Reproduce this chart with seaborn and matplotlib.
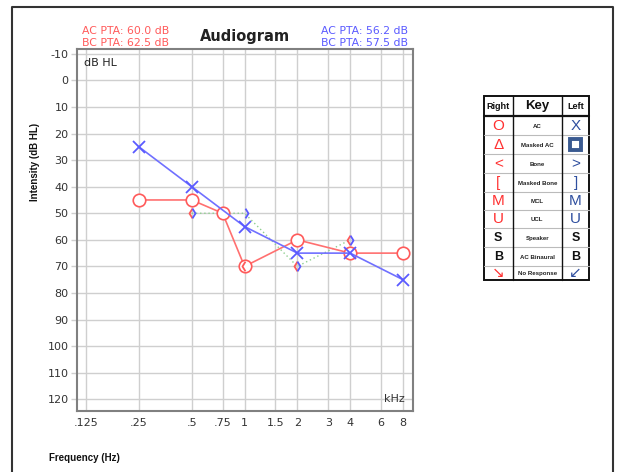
import numpy as np
import pandas as pd
import matplotlib
matplotlib.use("Agg")
import matplotlib.pyplot as plt
from matplotlib.path import Path
from matplotlib.patches import Rectangle
import seaborn as sns

# ---------------- data ----------------
freq_ticks = [0.125, 0.25, 0.5, 0.75, 1, 1.5, 2, 3, 4, 6, 8]
freq_labels = [".125", ".25", ".5", ".75", "1", "1.5", "2", "3", "4", "6", "8"]
db_ticks = list(range(-10, 121, 10))

right_ac_freq = [0.25, 0.5, 0.75, 1, 2, 4, 8]
right_ac_db = [45, 45, 50, 70, 60, 65, 65]

left_ac_freq = [0.25, 0.5, 1, 2, 4, 8]
left_ac_db = [25, 40, 55, 65, 65, 75]

right_bc_freq = [0.5, 1, 2, 4]
right_bc_db = [50, 70, 70, 60]

left_bc_freq = [0.5, 1, 2, 4]
left_bc_db = [50, 50, 70, 60]

pta_right = ["AC PTA: 60.0 dB", "BC PTA: 62.5 dB"]
pta_left = ["AC PTA: 56.2 dB", "BC PTA: 57.5 dB"]

key_rows = ["AC", "Masked AC", "Bone", "Masked Bone", "MCL", "UCL",
            "Speaker", "AC Binaural", "No Response"]
key_right = ["O", "Δ", "<", "[", "M", "U", "S", "B", "↘"]
key_left = ["X", "", ">", "]", "M", "U", "S", "B", "↙"]

# ---------------- style ----------------
sns.set_style("white")
plt.rcParams["font.family"] = ["DejaVu Sans"]

W, H = 622, 472
fig = plt.figure(figsize=(W / 100, H / 100), dpi=100)

def fx(x):
    return x / W

def fy(y):
    return 1 - y / H

RED = "#ff5a5a"
RED_L = "#ff7070"
BLUE = "#5a5aff"
BLUE_L = "#7070ff"
GREEN = "#8fcf8f"

# overlay for frame and key table (pixel coordinates)
ov = fig.add_axes([0, 0, 1, 1], zorder=0)
ov.set_xlim(0, W)
ov.set_ylim(H, 0)
ov.axis("off")
ov.plot([12, 12, 613, 613], [H + 5, 7, 7, H + 5], color="#333333", lw=1.5)

ax = fig.add_axes([fx(77), fy(411), (413 - 77) / W, (411 - 49) / H], zorder=2)
ax.set_facecolor("white")

# ---------------- data layers ----------------
df_r = pd.DataFrame({"f": right_ac_freq, "db": right_ac_db})
df_l = pd.DataFrame({"f": left_ac_freq, "db": left_ac_db})
df_rb = pd.DataFrame({"f": right_bc_freq, "db": right_bc_db})
df_lb = pd.DataFrame({"f": left_bc_freq, "db": left_bc_db})

sns.lineplot(data=df_lb, x="f", y="db", ax=ax, sort=False, color=GREEN,
             lw=1.0, linestyle=(0, (1, 2)), zorder=3)
sns.lineplot(data=df_r, x="f", y="db", ax=ax, sort=False, color=RED_L, lw=1.2,
             marker="o", markersize=9, markerfacecolor="white",
             markeredgecolor=RED, markeredgewidth=1.2, zorder=4)
sns.lineplot(data=df_l, x="f", y="db", ax=ax, sort=False, color=BLUE_L, lw=1.2,
             marker="x", markersize=8.5, markeredgecolor=BLUE,
             markeredgewidth=1.3, zorder=5)

lt = Path([(0, 1), (-0.62, 0), (0, -1)], [Path.MOVETO, Path.LINETO, Path.LINETO])
gt = Path([(0, 1), (0.62, 0), (0, -1)], [Path.MOVETO, Path.LINETO, Path.LINETO])
sns.lineplot(data=df_rb, x="f", y="db", ax=ax, sort=False, lw=0, marker=lt,
             markersize=7, markerfacecolor="none", markeredgecolor=RED,
             markeredgewidth=1.3, color=RED, zorder=6)
sns.lineplot(data=df_lb, x="f", y="db", ax=ax, sort=False, lw=0, marker=gt,
             markersize=7, markerfacecolor="none", markeredgecolor=BLUE,
             markeredgewidth=1.3, color=BLUE, zorder=6)

# ---------------- axes ----------------
ax.set_xscale("log")
ax.set_xlim(0.111, 9.12)
ax.set_ylim(124.4, -11.8)
ax.set_xticks(freq_ticks)
ax.set_xticklabels(freq_labels)
ax.xaxis.set_minor_locator(matplotlib.ticker.NullLocator())
ax.set_yticks(db_ticks)
ax.set_yticklabels([str(v) for v in db_ticks])
ax.grid(True, color="#cfcfcf", lw=1.0)
ax.set_axisbelow(True)
ax.tick_params(axis="y", length=4, width=1, color="#cfcfcf", pad=2,
               labelsize=8, labelcolor="#333333", left=True)
ax.tick_params(axis="x", length=0, pad=5, labelsize=8, labelcolor="#333333")
for s in ax.spines.values():
    s.set_color("#808080")
    s.set_linewidth(1.5)
ax.set_xlabel("")
ax.set_ylabel("")

fig.text(fx(84), fy(63), "dB HL", fontsize=8, color="#222222",
         ha="left", va="center", zorder=10)
fig.text(fx(405), fy(399), "kHz", fontsize=8, color="#333333",
         ha="right", va="center", zorder=10)

# ---------------- titles / labels ----------------
fig.text(fx(245), fy(37), "Audiogram", fontsize=10.5, fontweight="bold",
         ha="center", va="center", color="#222222")
fig.text(fx(82), fy(31), pta_right[0], fontsize=7.8, color=RED, ha="left", va="center")
fig.text(fx(82), fy(43), pta_right[1], fontsize=7.8, color=RED, ha="left", va="center")
fig.text(fx(408), fy(31), pta_left[0], fontsize=7.8, color=BLUE, ha="right", va="center")
fig.text(fx(408), fy(43), pta_left[1], fontsize=7.8, color=BLUE, ha="right", va="center")
fig.text(fx(35), fy(162), "Intensity (dB HL)", fontsize=7, fontweight="bold",
         rotation=90, ha="center", va="center", color="#111111",
         family="Liberation Sans")
fig.text(fx(49), fy(458), "Frequency (Hz)", fontsize=7, fontweight="bold",
         ha="left", va="center", color="#111111", family="Liberation Sans")

# ---------------- key table ----------------
tx0, tx1, tx2, tx3 = 484, 512.5, 562, 589
row_edges = [96, 116, 135, 154.3, 173.3, 192, 210, 228.3, 247, 266, 280]
for y in row_edges[2:-1]:
    ov.plot([tx0, tx3], [y, y], color="#bbbbbb", lw=0.8)
ov.plot([tx0, tx3], [116, 116], color="#111111", lw=1.6)
for x in (tx1, tx2):
    ov.plot([x, x], [96, 280], color="#111111", lw=1.0)
ov.add_patch(Rectangle((tx0, 96), tx3 - tx0, 280 - 96, fill=False,
                       edgecolor="#111111", lw=1.4))

cx_r, cx_k, cx_l = (tx0 + tx1) / 2, (tx1 + tx2) / 2, (tx2 + tx3) / 2
ov.text(cx_r, 106.5, "Right", fontsize=6.5, fontweight="bold", ha="center",
        va="center", family="Liberation Sans", color="#111111")
ov.text(cx_k, 106, "Key", fontsize=9.5, fontweight="bold", ha="center",
        va="center", family="Liberation Sans", color="#111111")
ov.text(cx_l, 106.5, "Left", fontsize=6.5, fontweight="bold", ha="center",
        va="center", family="Liberation Sans", color="#111111")

KRED = "#ff3030"
KBLUE = "#2f4f9f"
SYM_FONT = ["Liberation Sans", "DejaVu Sans"]
for i, name in enumerate(key_rows):
    yc = (row_edges[i + 1] + row_edges[i + 2]) / 2
    ov.text(cx_k, yc + 0.8, name, fontsize=4.4, fontweight="bold", ha="center",
            va="center", family="Liberation Sans", color="#222222")
    is_bw = key_right[i] in ("S", "B")
    rc = "#111111" if is_bw else KRED
    lc = "#111111" if is_bw else KBLUE
    fs = 9 if is_bw else 11
    wt = "bold" if is_bw else "normal"
    ov.text(cx_r, yc, key_right[i], fontsize=fs, ha="center", va="center",
            color=rc, family=SYM_FONT, fontweight=wt)
    if key_left[i]:
        ov.text(cx_l, yc, key_left[i], fontsize=fs, ha="center", va="center",
                color=lc, family=SYM_FONT, fontweight=wt)
    else:
        ov.add_patch(Rectangle((cx_l - 5.5, yc - 5.5), 11, 11, facecolor="white",
                               edgecolor="#3a5a90", lw=2.8))

fig.savefig("out.png", dpi=100)
